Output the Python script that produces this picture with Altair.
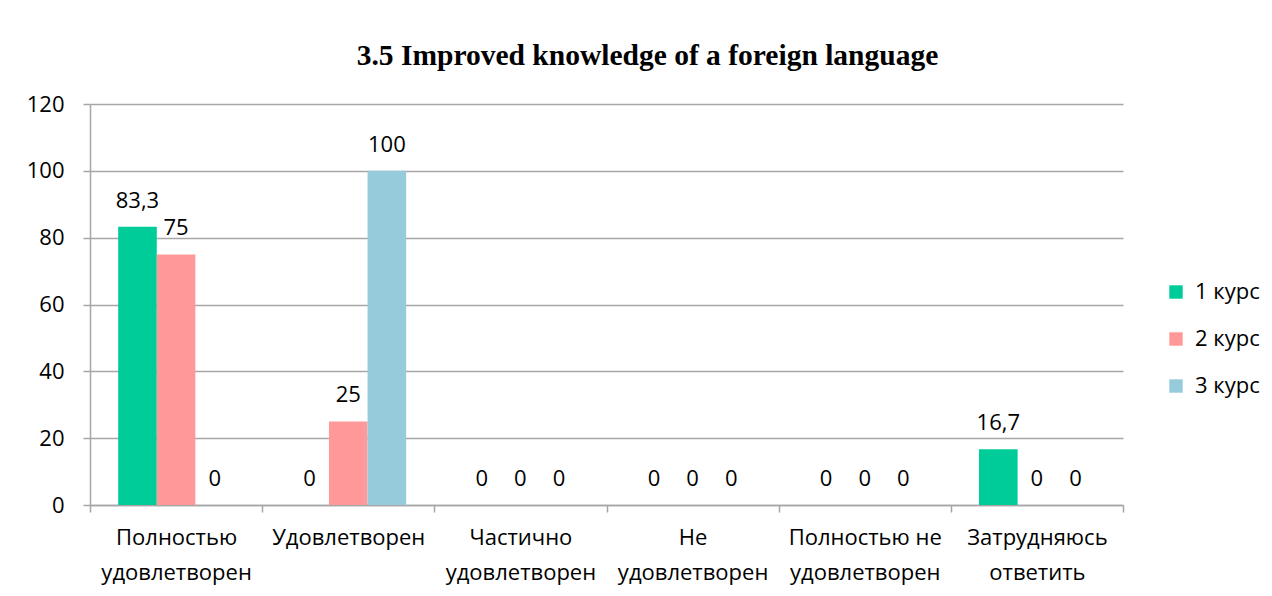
import altair as alt
import pandas as pd

title_text = "3.5 Improved knowledge of a foreign language"
categories = [
    "Полностью\nудовлетворен",
    "Удовлетворен",
    "Частично\nудовлетворен",
    "Не\nудовлетворен",
    "Полностью не\nудовлетворен",
    "Затрудняюсь\nответить",
]
series = ["1 курс", "2 курс", "3 курс"]
values_1 = [83.3, 0, 0, 0, 0, 16.7]
values_2 = [75, 25, 0, 0, 0, 0]
values_3 = [0, 100, 0, 0, 0, 0]
colors = ["#00CC99", "#FF9999", "#96CBDC"]
y_ticks = [0, 20, 40, 60, 80, 100, 120]

rows = []
for s, vals in zip(series, [values_1, values_2, values_3]):
    for c, v in zip(categories, vals):
        rows.append({"cat": c, "series": s, "value": v,
                     "label": str(v).replace(".", ",")})
df = pd.DataFrame(rows)

FONT = "Open Sans"
FS = 22
GRID = "#a6a6a6"

x_enc = alt.X(
    "cat:N", sort=categories,
    scale=alt.Scale(paddingInner=0, paddingOuter=0),
    axis=alt.Axis(title=None, labelAngle=0, labelExpr="split(datum.label, '\\n')",
                  tickBand="extent", grid=False, tickSize=7, labelPadding=15,
                  labelLineHeight=35, domainColor=GRID, tickColor=GRID,
                  domainWidth=1.5, tickWidth=1.5, labelFont=FONT, labelFontSize=FS,
                  labelColor="black"),
)
xo_enc = alt.XOffset("series:N", sort=series,
                     scale=alt.Scale(paddingOuter=0.73, paddingInner=0))
y_enc = alt.Y(
    "value:Q", scale=alt.Scale(domain=[0, 120]),
    axis=alt.Axis(title=None, values=y_ticks, grid=True, gridColor=GRID, gridWidth=1.5,
                  tickSize=7, labelPadding=19, domainColor=GRID, tickColor=GRID,
                  domainWidth=1.5, tickWidth=1.5, labelFont=FONT, labelFontSize=FS,
                  labelColor="black"),
)

bars = alt.Chart(df).mark_bar().encode(
    x=x_enc, xOffset=xo_enc, y=y_enc,
    color=alt.Color("series:N", sort=series,
                    scale=alt.Scale(domain=series, range=colors),
                    legend=alt.Legend(title=None, orient="none", legendX=1075, legendY=177,
                                      symbolType="square", symbolSize=180,
                                      symbolStrokeWidth=0, symbolOpacity=1,
                                      labelFont=FONT, labelFontSize=FS, labelColor="black",
                                      rowPadding=25, labelOffset=8, padding=0)),
)
labels = alt.Chart(df).mark_text(baseline="alphabetic", dy=-19, font=FONT,
                                 fontSize=FS, color="black").encode(
    x=x_enc, xOffset=xo_enc, y=y_enc, text="label:N",
)

chart = alt.layer(bars, labels).properties(
    width=1033, height=401,
    title=alt.TitleParams(text=title_text, font="Liberation Serif", fontSize=29.5,
                          fontWeight="bold", anchor="middle", dx=41, offset=22,
                          color="black"),
    autosize=alt.AutoSizeParams(type="none"),
    padding={"left": 82, "top": 96, "right": 141, "bottom": 83},
).configure_view(stroke=None)

chart.save("out.html", embed_options={"renderer": "svg", "actions": False})
